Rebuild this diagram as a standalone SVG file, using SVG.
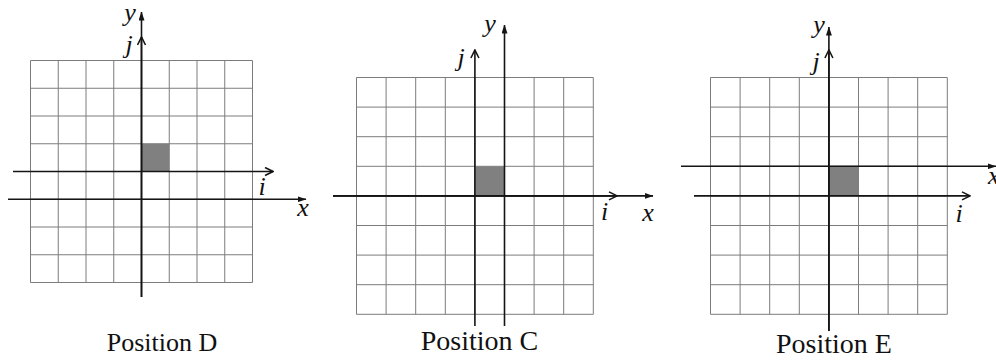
<svg xmlns="http://www.w3.org/2000/svg" width="996" height="360" viewBox="0 0 996 360">
  <style>
    .grid { fill: none; stroke: #7c7c7c; stroke-width: 1; }
    .cell { fill: #808080; stroke: none; }
    .axis { fill: none; stroke: #151515; stroke-width: 1.6; }
    .solid { marker-end: url(#arrowSolid); }
    .open { marker-end: url(#arrowOpen); }
    .lbl { font-family: "Liberation Serif", "Times New Roman", serif; font-style: italic; font-size: 26px; fill: #111; text-anchor: middle; }
    .cap { font-family: "Liberation Serif", "Times New Roman", serif; font-size: 27px; fill: #111; text-anchor: middle; }
  </style>
  <defs>
    <marker id="arrowSolid" viewBox="0 0 9 6" refX="8.5" refY="3" markerWidth="9" markerHeight="6" markerUnits="userSpaceOnUse" orient="auto">
      <path d="M0,0 L9,3 L0,6 Z" fill="#151515"/>
    </marker>
    <marker id="arrowOpen" viewBox="0 0 10 10" refX="9" refY="5" markerWidth="10" markerHeight="10" markerUnits="userSpaceOnUse" orient="auto">
      <path d="M1,1 L9,5 L1,9" fill="none" stroke="#151515" stroke-width="1.6"/>
    </marker>
  </defs>
  <rect width="996" height="360" fill="#ffffff"/>

  <!-- Panel D -->
  <g id="panel-D">
    <path class="grid" d="M30.5,60.5 H252.5 V282.5 H30.5 Z
      M58.25,60.5 V282.5 M86,60.5 V282.5 M113.75,60.5 V282.5 M141.5,60.5 V282.5 M169.25,60.5 V282.5 M197,60.5 V282.5 M224.75,60.5 V282.5
      M30.5,88.25 H252.5 M30.5,116 H252.5 M30.5,143.75 H252.5 M30.5,171.5 H252.5 M30.5,199.25 H252.5 M30.5,227 H252.5 M30.5,254.75 H252.5"/>
    <rect class="cell" x="141.5" y="143.75" width="27.75" height="27.75"/>
    <text class="cap" x="162" y="351" style="font-size:26px">Position D</text>
  </g>

  <!-- Panel C -->
  <g id="panel-C">
    <path class="grid" d="M356.5,77.5 H593.3 V314.3 H356.5 Z
      M386.1,77.5 V314.3 M415.7,77.5 V314.3 M445.3,77.5 V314.3 M474.9,77.5 V314.3 M504.5,77.5 V314.3 M534.1,77.5 V314.3 M563.7,77.5 V314.3
      M356.5,107.1 H593.3 M356.5,136.7 H593.3 M356.5,166.3 H593.3 M356.5,195.9 H593.3 M356.5,225.5 H593.3 M356.5,255.1 H593.3 M356.5,284.7 H593.3"/>
    <rect class="cell" x="474.9" y="166.3" width="29.6" height="29.6"/>
    <text class="cap" x="479.5" y="349.5" style="font-size:28px">Position C</text>
  </g>

  <!-- Panel E -->
  <g id="panel-E">
    <path class="grid" d="M710.5,77.5 H947.3 V314.3 H710.5 Z
      M740.1,77.5 V314.3 M769.7,77.5 V314.3 M799.3,77.5 V314.3 M828.9,77.5 V314.3 M858.5,77.5 V314.3 M888.1,77.5 V314.3 M917.7,77.5 V314.3
      M710.5,107.1 H947.3 M710.5,136.7 H947.3 M710.5,166.3 H947.3 M710.5,195.9 H947.3 M710.5,225.5 H947.3 M710.5,255.1 H947.3 M710.5,284.7 H947.3"/>
    <rect class="cell" x="828.9" y="166.3" width="29.6" height="29.6"/>
    <text class="cap" x="834" y="353" style="font-size:28px">Position E</text>
  </g>

  <!-- Axes (connectors) -->
  <g id="axes">
    <!-- D -->
    <line class="axis solid" x1="141.5" y1="297" x2="141.5" y2="12"/>
    <line class="axis open" x1="141.5" y1="297" x2="141.5" y2="37"/>
    <line class="axis open" x1="13" y1="171.5" x2="273" y2="171.5"/>
    <line class="axis solid" x1="8" y1="199.25" x2="306" y2="199.25"/>
    <!-- C -->
    <line class="axis open" x1="474.9" y1="326" x2="474.9" y2="50"/>
    <line class="axis solid" x1="504.5" y1="326" x2="504.5" y2="25"/>
    <line class="axis open" x1="333" y1="195.9" x2="617" y2="195.9"/>
    <line class="axis solid" x1="333" y1="195.9" x2="653" y2="195.9"/>
    <!-- E -->
    <line class="axis solid" x1="828.9" y1="331" x2="828.9" y2="27"/>
    <line class="axis open" x1="828.9" y1="331" x2="828.9" y2="50"/>
    <line class="axis solid" x1="681" y1="166.3" x2="996" y2="166.3"/>
    <line class="axis open" x1="694" y1="195.9" x2="970" y2="195.9"/>
  </g>

  <!-- Axis labels -->
  <g id="labels">
    <text class="lbl" x="130" y="21">y</text>
    <text class="lbl" x="129" y="53">j</text>
    <text class="lbl" x="262" y="195">i</text>
    <text class="lbl" x="303" y="216">x</text>

    <text class="lbl" x="490" y="32">y</text>
    <text class="lbl" x="461" y="66">j</text>
    <text class="lbl" x="604.5" y="220">i</text>
    <text class="lbl" x="648" y="220.5">x</text>

    <text class="lbl" x="819" y="33">y</text>
    <text class="lbl" x="816" y="70">j</text>
    <text class="lbl" x="959" y="221.5">i</text>
    <text class="lbl" x="988" y="184" style="text-anchor:start">x</text>
  </g>
</svg>
